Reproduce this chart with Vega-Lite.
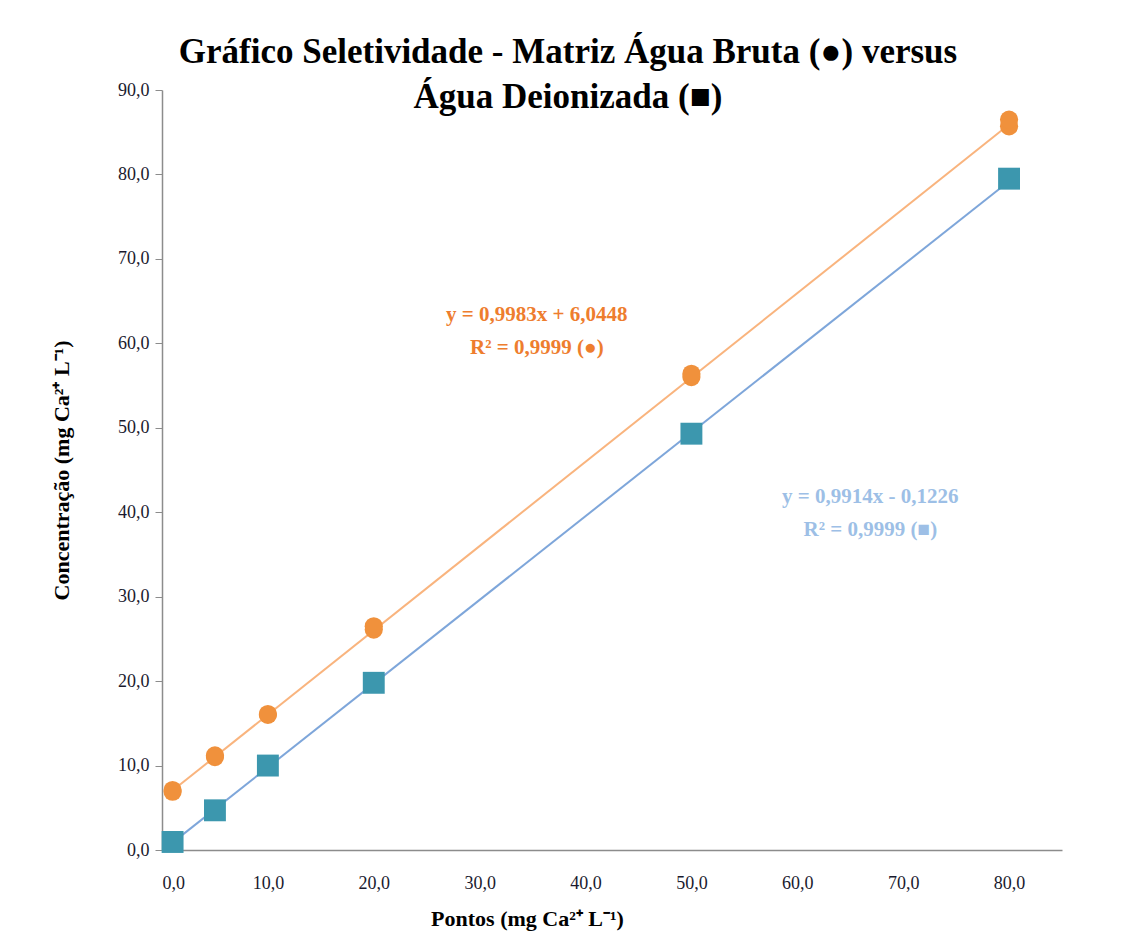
{
  "$schema": "https://vega.github.io/schema/vega-lite/v6.json",
  "width": 900,
  "height": 760,
  "autosize": {"type": "none"},
  "padding": {"left": 162, "top": 90, "right": 65, "bottom": 89},
  "background": "white",
  "config": {
    "view": {"stroke": null},
    "font": "Liberation Serif"
  },
  "title": {
    "text": ["Gráfico Seletividade - Matriz Água Bruta (●) versus", "Água Deionizada (■)"],
    "font": "Liberation Serif",
    "fontSize": 35,
    "fontWeight": "bold",
    "color": "#000000",
    "anchor": "middle",
    "frame": "group",
    "dx": -44,
    "offset": -34,
    "lineHeight": 45
  },
  "datasets": {
    "pts": [
      {"x": 1, "y": 6.9, "serie": "Água Bruta"},
      {"x": 1, "y": 7.1, "serie": "Água Bruta"},
      {"x": 5, "y": 11.0, "serie": "Água Bruta"},
      {"x": 5, "y": 11.2, "serie": "Água Bruta"},
      {"x": 10, "y": 16.0, "serie": "Água Bruta"},
      {"x": 10, "y": 16.1, "serie": "Água Bruta"},
      {"x": 20, "y": 26.1, "serie": "Água Bruta"},
      {"x": 20, "y": 26.5, "serie": "Água Bruta"},
      {"x": 50, "y": 56.0, "serie": "Água Bruta"},
      {"x": 50, "y": 56.4, "serie": "Água Bruta"},
      {"x": 80, "y": 85.7, "serie": "Água Bruta"},
      {"x": 80, "y": 86.5, "serie": "Água Bruta"},
      {"x": 1, "y": 0.95, "serie": "Água Deionizada"},
      {"x": 5, "y": 4.7, "serie": "Água Deionizada"},
      {"x": 10, "y": 10.0, "serie": "Água Deionizada"},
      {"x": 20, "y": 19.8, "serie": "Água Deionizada"},
      {"x": 50, "y": 49.3, "serie": "Água Deionizada"},
      {"x": 80, "y": 79.5, "serie": "Água Deionizada"}
    ],
    "fit": [
      {"x": 1, "y": 7.04, "serie": "Água Bruta"},
      {"x": 80, "y": 85.91, "serie": "Água Bruta"},
      {"x": 1, "y": 0.87, "serie": "Água Deionizada"},
      {"x": 80, "y": 79.19, "serie": "Água Deionizada"}
    ],
    "lab": [
      {"x": 35.4, "y": 63.3, "serie": "Água Bruta", "t": "y = 0,9983x + 6,0448"},
      {"x": 35.4, "y": 59.4, "serie": "Água Bruta", "t": "R² = 0,9999 (●)"},
      {"x": 66.9, "y": 41.8, "serie": "Água Deionizada", "t": "y = 0,9914x - 0,1226"},
      {"x": 66.9, "y": 37.9, "serie": "Água Deionizada", "t": "R² = 0,9999 (■)"}
    ]
  },
  "encoding": {
    "x": {
      "field": "x",
      "type": "quantitative",
      "scale": {"domain": [0, 85], "nice": false, "zero": true},
      "axis": {
        "title": "Pontos  (mg  Ca²⁺ L⁻¹)",
        "titleFont": "Liberation Serif",
        "titleFontSize": 22,
        "titleFontWeight": "bold",
        "titleColor": "#000000",
        "titleX": 365,
        "titleY": 75,
        "titleBaseline": "alphabetic",
        "values": [0, 10, 20, 30, 40, 50, 60, 70, 80],
        "labelExpr": "replace(format(datum.value, '.1f'), '.', ',')",
        "labelFont": "Liberation Serif",
        "labelFontSize": 18,
        "labelColor": "#1a1a2e",
        "labelPadding": 24,
        "ticks": false,
        "grid": false,
        "domainColor": "#8c8c8c",
        "domainWidth": 1.5
      }
    },
    "y": {
      "field": "y",
      "type": "quantitative",
      "scale": {"domain": [0, 90], "nice": false},
      "axis": {
        "title": "Concentração  (mg  Ca²⁺ L⁻¹)",
        "titleFont": "Liberation Serif",
        "titleFontSize": 22,
        "titleFontWeight": "bold",
        "titleColor": "#000000",
        "titlePadding": 44,
        "values": [0, 10, 20, 30, 40, 50, 60, 70, 80, 90],
        "labelExpr": "replace(format(datum.value, '.1f'), '.', ',')",
        "labelFont": "Liberation Serif",
        "labelFontSize": 18,
        "labelColor": "#1a1a2e",
        "labelPadding": 6,
        "tickSize": 7,
        "tickColor": "#8c8c8c",
        "grid": false,
        "domainColor": "#8c8c8c",
        "domainWidth": 1.5
      }
    }
  },
  "layer": [
    {
      "data": {"name": "fit"},
      "transform": [{"filter": "datum.serie == 'Água Bruta'"}],
      "mark": {"type": "line", "strokeWidth": 2, "color": "#F9B47E"},
      "encoding": {}
    },
    {
      "data": {"name": "fit"},
      "transform": [{"filter": "datum.serie == 'Água Deionizada'"}],
      "mark": {"type": "line", "strokeWidth": 2, "color": "#7EA6DA"},
      "encoding": {}
    },
    {
      "data": {"name": "pts"},
      "transform": [{"filter": "datum.serie == 'Água Bruta'"}],
      "mark": {"type": "point", "shape": "circle", "filled": true, "size": 330, "color": "#F0913C", "opacity": 1}
    },
    {
      "data": {"name": "pts"},
      "transform": [{"filter": "datum.serie == 'Água Deionizada'"}],
      "mark": {"type": "point", "shape": "square", "filled": true, "size": 480, "color": "#3C97AE", "opacity": 1}
    },
    {
      "data": {"name": "lab"},
      "transform": [{"filter": "datum.serie == 'Água Bruta'"}],
      "mark": {"type": "text", "font": "Liberation Serif", "fontSize": 21, "fontWeight": "bold", "align": "center", "baseline": "middle", "color": "#EE7D2E"},
      "encoding": {"text": {"field": "t"}}
    },
    {
      "data": {"name": "lab"},
      "transform": [{"filter": "datum.serie == 'Água Deionizada'"}],
      "mark": {"type": "text", "font": "Liberation Serif", "fontSize": 21, "fontWeight": "bold", "align": "center", "baseline": "middle", "color": "#9DBFE6"},
      "encoding": {"text": {"field": "t"}}
    }
  ]
}
